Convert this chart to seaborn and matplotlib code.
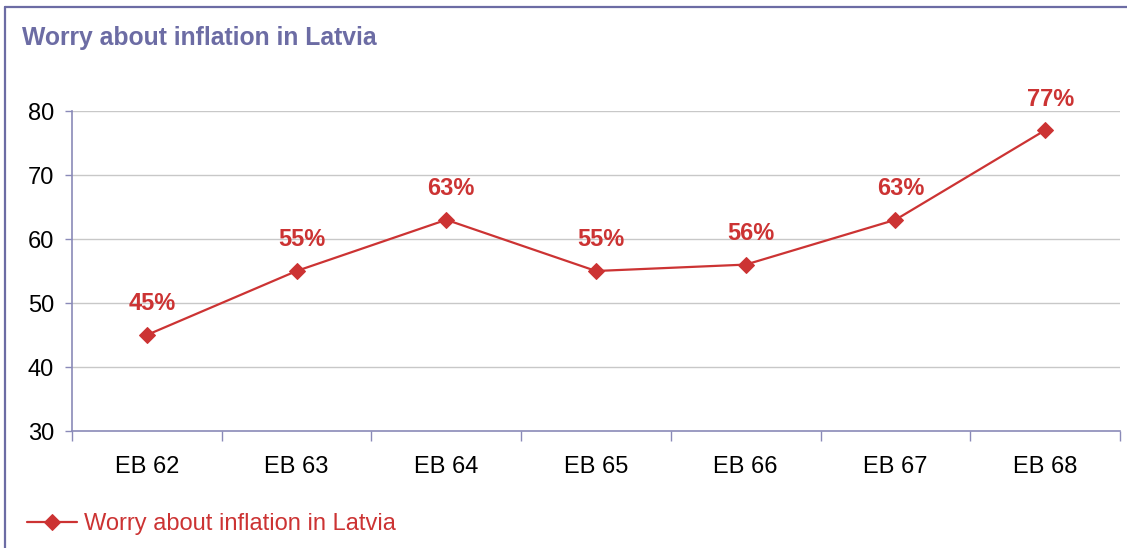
import matplotlib
matplotlib.use("Agg")
import matplotlib.pyplot as plt
from matplotlib.lines import Line2D
import seaborn as sns
import pandas as pd

categories = ["EB 62", "EB 63", "EB 64", "EB 65", "EB 66", "EB 67", "EB 68"]
values = [45, 55, 63, 55, 56, 63, 77]
y_ticks = [30, 40, 50, 60, 70, 80]
series_name = "Worry about inflation in Latvia"
title = "Worry about inflation in Latvia"

RED = "#cc3333"
PURPLE = "#6c6ca4"
AXIS = "#8a8ab8"
GRID = "#c8c8c8"

sns.set_theme(style="white")
plt.rcParams["font.family"] = ["Liberation Sans", "DejaVu Sans"]

W, H = 1127, 548
fig = plt.figure(figsize=(W / 100, H / 100), dpi=100)
fig.patch.set_facecolor("white")
ax = fig.add_axes([72 / W, (H - 431) / H, (1120 - 72) / W, (431 - 111) / H])

df = pd.DataFrame({"wave": categories, "value": values})
sns.lineplot(data=df, x="wave", y="value", sort=False, ax=ax, color=RED,
             marker="D", markersize=8, markeredgecolor=RED, linewidth=1.6,
             label=series_name)

ax.set_xlim(-0.5, len(categories) - 0.5)
ax.set_ylim(30, 80)
ax.set_yticks(y_ticks)
ax.set_xticks(range(len(categories)))
ax.set_xticklabels(categories)
ax.set_xticks([i - 0.5 for i in range(len(categories) + 1)], minor=True)
ax.set_xlabel("")
ax.set_ylabel("")

for y in y_ticks[1:]:
    ax.axhline(y, color=GRID, linewidth=1, zorder=0)

for s in ["top", "right"]:
    ax.spines[s].set_visible(False)
for s in ["left", "bottom"]:
    ax.spines[s].set_color(AXIS)
    ax.spines[s].set_linewidth(1.2)

ax.tick_params(axis="y", which="major", length=5, width=1, color=AXIS,
               direction="out", left=True, labelsize=17, labelcolor="black", pad=8)
ax.tick_params(axis="x", which="major", length=0, labelsize=17,
               labelcolor="black", pad=18)
ax.tick_params(axis="x", which="minor", length=7, width=1, color=AXIS,
               direction="out", bottom=True)

for i, v in enumerate(values):
    ax.annotate(f"{v}%", (i, v), xytext=(5, 31), textcoords="offset pixels",
                ha="center", va="center", fontsize=17, fontweight="bold",
                color=RED)

fig.text(22 / W, 1 - 45 / H, title, fontsize=17.8, fontweight="bold",
         color=PURPLE, ha="left", va="baseline")

leg = ax.legend(loc="center left", bbox_to_anchor=(27 / W, 1 - 524 / H),
                bbox_transform=fig.transFigure, frameon=False, borderpad=0,
                borderaxespad=0, handlelength=2.1, handletextpad=0.3,
                fontsize=17)
for t in leg.get_texts():
    t.set_color(RED)

fig.add_artist(Line2D([5 / W, 1], [1 - 7 / H, 1 - 7 / H], color=PURPLE,
                      linewidth=1.6, transform=fig.transFigure))
fig.add_artist(Line2D([5 / W, 5 / W], [0, 1 - 7 / H], color=PURPLE,
                      linewidth=1.6, transform=fig.transFigure))

fig.savefig("out.png", dpi=100, facecolor="white")
